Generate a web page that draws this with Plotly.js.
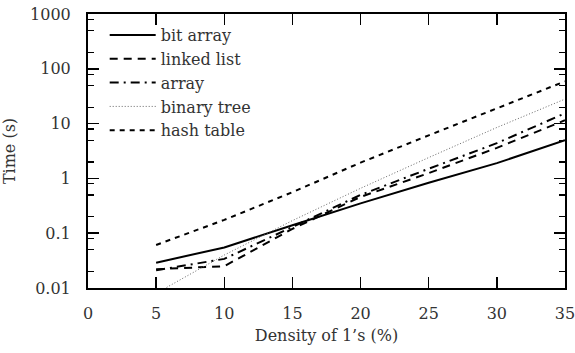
<!DOCTYPE html>
<html>
<head>
<meta charset="utf-8">
<script src="https://cdn.plot.ly/plotly-3.0.1.min.js"></script>
<style>html,body{margin:0;padding:0;background:#fff;}#chart{width:575px;height:353px;}</style>
</head>
<body>
<div id="chart"></div>
<script>
const densities = [5, 10, 15, 20, 25, 30, 35];
const bitArray = [0.029, 0.055, 0.14, 0.35, 0.83, 1.9, 5.0];
const linkedList = [0.022, 0.025, 0.12, 0.46, 1.25, 3.6, 11.5];
const arrayTimes = [0.021, 0.034, 0.13, 0.5, 1.5, 4.4, 15.4];
const binaryTree = [0.008, 0.04, 0.17, 0.66, 2.4, 8.5, 28];
const hashTable = [0.061, 0.175, 0.56, 1.94, 6.1, 19, 59];

const seriesNames = ['bit array', 'linked list', 'array', 'binary tree', 'hash table'];
const xTicks = [0, 5, 10, 15, 20, 25, 30, 35];
const yTicks = [0.01, 0.1, 1, 10, 100, 1000];
const yTickText = ['0.01', '0.1', '1', '10', '100', '1000'];
const yMinor = [];
[0.01, 0.1, 1, 10, 100].forEach(d => { yMinor.push(2 * d, 5 * d, 8 * d); });

const FONT = 'DejaVu Serif, serif';
const TXT = '#333';
const styles = [
  {color: '#000', width: 2, dash: 'solid'},
  {color: '#000', width: 2, dash: '8px,6px'},
  {color: '#000', width: 2, dash: '9px,5px,2px,5px'},
  {color: '#666', width: 1, dash: '1px,2px'},
  {color: '#000', width: 2, dash: '5px,5px'}
];
const ys = [bitArray, linkedList, arrayTimes, binaryTree, hashTable];

const traces = ys.map((y, i) => ({
  x: densities, y: y, name: seriesNames[i], type: 'scatter', mode: 'lines',
  line: styles[i]
}));

const layout = {
  width: 575, height: 353,
  margin: {l: 88, r: 10, t: 14, b: 65},
  paper_bgcolor: '#fff', plot_bgcolor: '#fff',
  font: {family: FONT, size: 16, color: TXT},
  showlegend: true,
  legend: {x: 0.035, y: 0.985, xanchor: 'left', yanchor: 'top', bgcolor: 'rgba(0,0,0,0)',
           font: {family: FONT, size: 16, color: TXT}, itemwidth: 46, tracegroupgap: 0},
  xaxis: {
    range: [0, 35], tickvals: xTicks, ticktext: xTicks.map(String),
    ticks: 'inside', ticklen: 11, tickwidth: 1.5, tickcolor: '#000',
    showline: true, linecolor: '#000', linewidth: 2, mirror: 'allticks',
    showgrid: false, zeroline: false, ticklabelstandoff: 10, ticklabeloverflow: 'allow',
    title: {text: 'Density of 1\u2019s (%)', font: {family: FONT, size: 16, color: TXT}, standoff: 8}
  },
  yaxis: {
    type: 'log', range: [-2, 3], tickvals: yTicks, ticktext: yTickText,
    ticks: 'inside', ticklen: 11, tickwidth: 1.5, tickcolor: '#000',
    minor: {tickvals: yMinor, ticks: 'inside', ticklen: 6, tickwidth: 1.2, tickcolor: '#000', showgrid: false},
    showline: true, linecolor: '#000', linewidth: 2, mirror: 'allticks',
    showgrid: false, zeroline: false, ticklabelstandoff: 12,
    title: {text: 'Time (s)', font: {family: FONT, size: 16, color: TXT}, standoff: 10}
  }
};

Plotly.newPlot('chart', traces, layout, {staticPlot: true, displayModeBar: false});
</script>
</body>
</html>
